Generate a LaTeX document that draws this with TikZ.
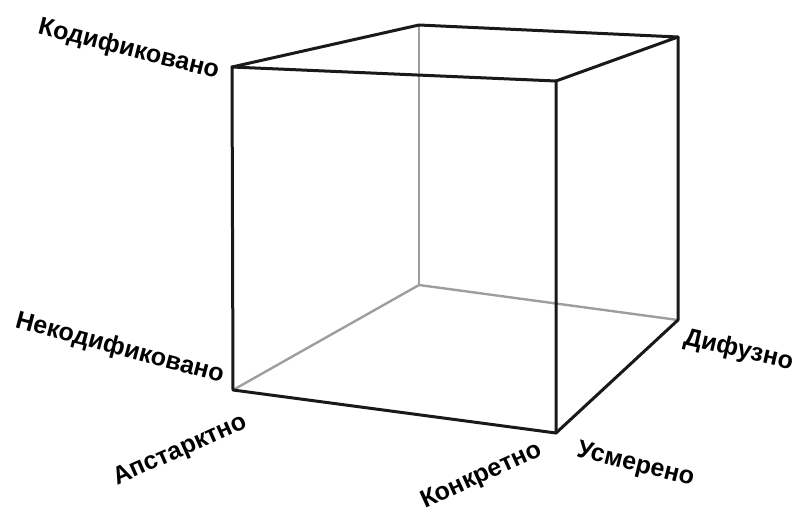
\documentclass[tikz,border=0pt]{standalone}
\usepackage{fontspec}
\setmainfont{Liberation Sans}
\begin{document}
\begin{tikzpicture}[x=1pt,y=-1pt,
  edge/.style={line width=3pt,line join=round,line cap=round,black!90},
  hidden/.style={line width=2.4pt,line cap=round,black!38},
  lbl/.style={anchor=base,inner sep=0pt,font=\fontsize{25}{29}\selectfont\bfseries}]
\useasboundingbox (0,0) rectangle (798,514);
% vertices
\coordinate (ftl) at (232,67);
\coordinate (ftr) at (556,81);
\coordinate (fbr) at (556,433);
\coordinate (fbl) at (233,390);
\coordinate (btl) at (419,25);
\coordinate (btr) at (678,37);
\coordinate (bbr) at (678,320);
\coordinate (bbl) at (419,285);
% hidden edges
\draw[hidden] (btl) -- (bbl);
\draw[hidden] (bbl) -- (bbr);
\draw[hidden] (bbl) -- (fbl);
% visible edges
\draw[edge] (ftl) -- (ftr) -- (fbr) -- (fbl) -- cycle;
\draw[edge] (ftl) -- (btl) -- (btr) -- (ftr);
\draw[edge] (btr) -- (bbr) -- (fbr);
% labels
\node[lbl,rotate=-14] (kod) at (127,56) {Кодификовано};
\node[lbl,rotate=-15] (nekod) at (118,355) {Некодификовано};
\node[lbl,rotate=24] (aps) at (183,456) {Апстарктно};
\node[lbl,rotate=24.5] (kon) at (484,482) {Конкретно};
\node[lbl,rotate=-14] (usm) at (634,471) {Усмерено};
\node[lbl,rotate=-13] (dif) at (737,357) {Дифузно};
\end{tikzpicture}
\end{document}
